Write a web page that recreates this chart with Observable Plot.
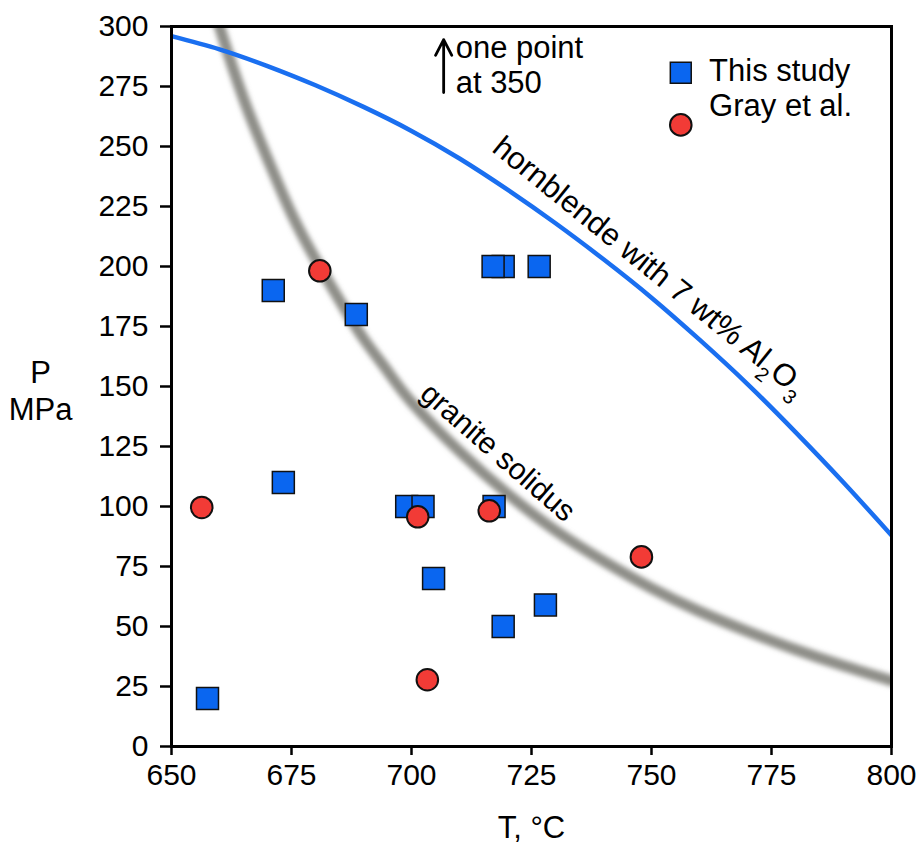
<!DOCTYPE html>
<html><head><meta charset="utf-8">
<script src="https://cdn.jsdelivr.net/npm/d3@7"></script>
<script src="https://cdn.jsdelivr.net/npm/@observablehq/plot@0.6"></script>
<style>body{margin:0;background:#fff}</style>
</head><body><div id="chart"></div>
<script>
// ---- data ----
const xTicks = [650, 675, 700, 725, 750, 775, 800];
const yTicks = [0, 25, 50, 75, 100, 125, 150, 175, 200, 225, 250, 275, 300];

// This study (squares)
const studyT = [671.2, 688.5, 719.1, 717.0, 726.6, 673.3, 699.0, 702.4, 717.2, 704.6, 719.1, 727.9, 657.5];
const studyP = [190, 180, 200, 200, 200, 110, 100, 100, 100, 70, 50, 59, 20];

// Gray et al. (circles)
const grayT = [680.9, 656.3, 701.3, 716.2, 703.3, 747.9];
const grayP = [198.2, 99.6, 95.7, 98.2, 27.8, 79];

// granite solidus (grey band)
const solidusT = [657, 660, 665, 670, 675, 680, 685, 690, 695, 700, 710, 720, 730, 740, 750, 760, 770, 780, 790, 800];
const solidusP = [320, 300, 270, 245, 222, 203, 186, 170, 156.5, 143.5, 123, 105.3, 90, 77.3, 66, 56.3, 48, 40.4, 33.6, 27.4];

// hornblende with 7 wt% Al2O3 (blue line)
const hblT = [650, 660, 670, 680, 690, 700, 710, 720, 730, 740, 750, 760, 770, 780, 790, 800];
const hblP = [296, 290.5, 283.5, 275.5, 266.5, 256.5, 245, 232, 218, 203, 187, 169.5, 151, 131, 110, 88];

// annotations
const legendItems = ["This study", "Gray et al."];
const legendSymbolT = [756.1, 756.1];
const legendSymbolP = [280.7, 259];
const legendTextT = [762, 762];
const legendTextP = [281.6, 266.8];
const arrowPoint = {T: 706.7, P1: 272.5, P2: 294.5};
const noteText = "one point\nat 350";
const noteT = 709.2, noteP = 284.3;
const solidusLabel = {text: "granite solidus", T: 718.0, P: 122.5, angle: 41};
const hblLabel = {text: "hornblende with 7 wt% Al2O3", T: 749.6, P: 200.0, angle: 39};

// ---- tables ----
const study = studyT.map((t, i) => ({T: t, P: studyP[i]}));
const gray = grayT.map((t, i) => ({T: t, P: grayP[i]}));
const solidus = solidusT.map((t, i) => ({T: t, P: solidusP[i]}));
const hbl = hblT.map((t, i) => ({T: t, P: hblP[i]}));

const FONT = "'Liberation Sans', Arial, Helvetica, sans-serif";
const SQ = "#0a66f0", CI = "#f23b36";

const chart = Plot.plot({
  width: 917, height: 852,
  marginTop: 26, marginRight: 26, marginBottom: 106, marginLeft: 171,
  style: {fontFamily: FONT, fontSize: "30px", background: "white", color: "black", overflow: "visible"},
  x: {domain: [650, 800]},
  y: {domain: [0, 300]},
  marks: [
    Plot.line(solidus, {x: "T", y: "P", stroke: "#8e8e88", strokeWidth: 11, curve: "natural", clip: true}),
    Plot.line(hbl, {x: "T", y: "P", stroke: "#1a6ff0", strokeWidth: 4.5, curve: "natural", clip: true}),
    Plot.dot(study, {x: "T", y: "P", symbol: "square", r: 12.4, fill: SQ, stroke: "#111", strokeWidth: 1.5}),
    Plot.dot(gray, {x: "T", y: "P", r: 10.8, fill: CI, stroke: "#111", strokeWidth: 2}),
    // legend
    Plot.dot([0], {x: legendSymbolT[0], y: legendSymbolP[0], symbol: "square", r: 11.8, fill: SQ, stroke: "#111", strokeWidth: 1.5}),
    Plot.dot([0], {x: legendSymbolT[1], y: legendSymbolP[1], r: 10.8, fill: CI, stroke: "#111", strokeWidth: 2}),
    Plot.text(legendItems, {x: (d, i) => legendTextT[i], y: (d, i) => legendTextP[i], text: d => d, textAnchor: "start", fontSize: 31, fill: "black"}),
    // note
    Plot.arrow([arrowPoint], {x1: "T", x2: "T", y1: "P1", y2: "P2", stroke: "black", strokeWidth: 2.8, headLength: 11, headAngle: 55}),
    Plot.text([noteText], {x: noteT, y: noteP, text: d => d, textAnchor: "start", lineAnchor: "middle", lineHeight: 1.15, fontSize: 31, fill: "black"}),
    // curve labels
    Plot.text([solidusLabel], {x: "T", y: "P", text: "text", rotate: solidusLabel.angle, fontSize: 30, fill: "black"}),
    Plot.text([hblLabel], {x: "T", y: "P", text: "text", rotate: hblLabel.angle, fontSize: 31, fill: "black"}),
    // axes titles
    Plot.text(["T, °C"], {frameAnchor: "bottom", dy: 91, text: d => d, textAnchor: "middle", fontSize: 31, fill: "black"}),
    Plot.text(["P\nMPa"], {frameAnchor: "left", dx: -131, dy: 3, text: d => d, textAnchor: "middle", lineHeight: 1.2, fontSize: 31, fill: "black"}),
    // axes + frame
    Plot.axisX({ticks: xTicks, tickSize: 9, tickPadding: 8, strokeWidth: 2.5, fontSize: 30, label: null}),
    Plot.axisY({ticks: yTicks, tickSize: 11, tickPadding: 12, strokeWidth: 2.5, fontSize: 30, label: null}),
    Plot.frame({stroke: "black", strokeWidth: 3})
  ]
});

// soft blur for the solidus band
const ns = "http://www.w3.org/2000/svg";
const defs = document.createElementNS(ns, "defs");
const filter = document.createElementNS(ns, "filter");
filter.setAttribute("id", "solidusBlur");
filter.setAttribute("x", "-10%"); filter.setAttribute("y", "-10%");
filter.setAttribute("width", "120%"); filter.setAttribute("height", "120%");
const blur = document.createElementNS(ns, "feGaussianBlur");
blur.setAttribute("stdDeviation", "2.5");
filter.appendChild(blur);
defs.appendChild(filter);
chart.insertBefore(defs, chart.firstChild);
const lineGroups = chart.querySelectorAll('g[aria-label="line"]');
if (lineGroups.length) {
  const p = lineGroups[0].querySelector("path");
  if (p) p.setAttribute("filter", "url(#solidusBlur)");
}

// subscripts in Al2O3
chart.querySelectorAll("text").forEach(t => {
  if (t.textContent === hblLabel.text) {
    t.textContent = "";
    const parts = [["hornblende with 7 wt% Al", null], ["2", "sub"], ["O", "up"], ["3", "sub"]];
    parts.forEach(([s, kind]) => {
      const ts = document.createElementNS(ns, "tspan");
      ts.textContent = s;
      if (kind === "sub") { ts.setAttribute("font-size", "20"); ts.setAttribute("dy", "10"); }
      if (kind === "up") { ts.setAttribute("dy", "-10"); }
      t.appendChild(ts);
    });
  }
});

document.getElementById("chart").appendChild(chart);
</script>
</body></html>
